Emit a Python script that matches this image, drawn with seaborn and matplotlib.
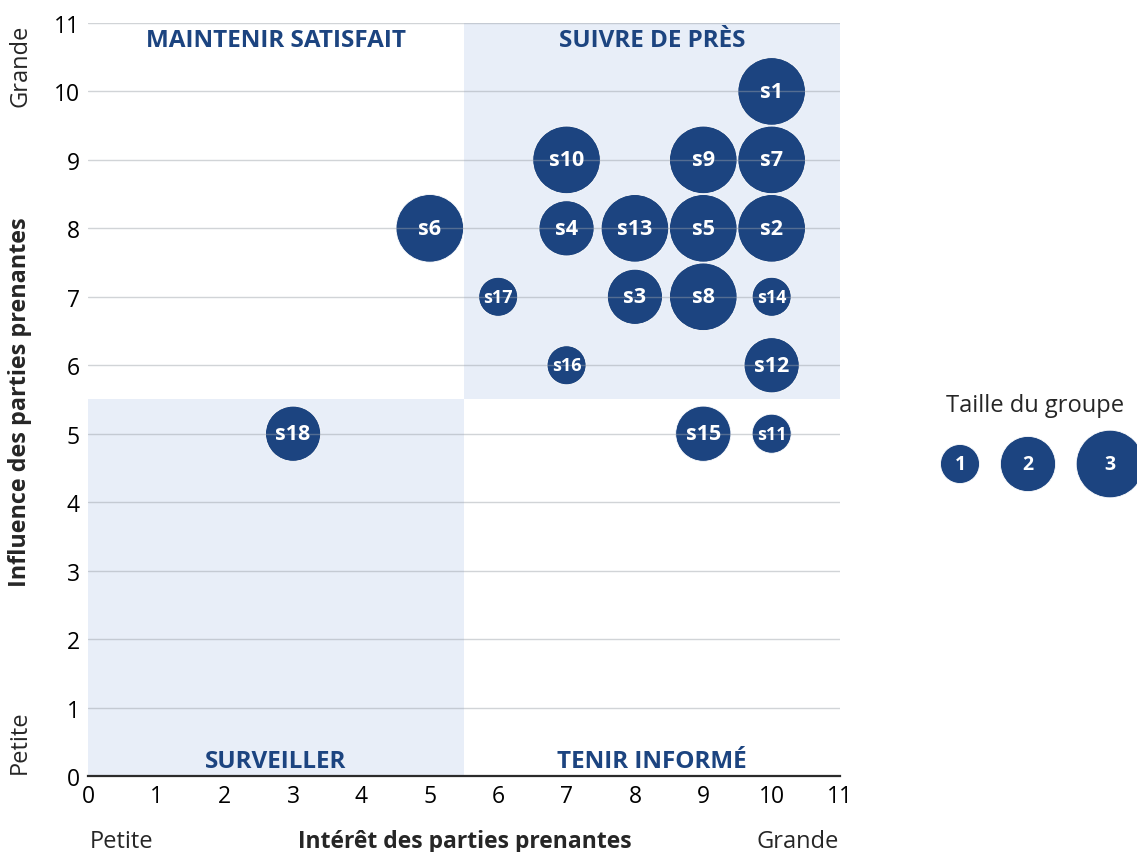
import pandas as pd
import seaborn as sns
import matplotlib.pyplot as plt
from matplotlib.patches import Rectangle

# Stakeholder data: name, interest (x), influence (y), group size.
noms = ['s1', 's2', 's3', 's4', 's5', 's6', 's7', 's8', 's9', 's10',
        's11', 's12', 's13', 's14', 's15', 's16', 's17', 's18']
interet = [10, 10, 8, 7, 9, 5, 10, 9, 9, 7, 10, 10, 8, 10, 9, 7, 6, 3]
influence = [10, 8, 7, 8, 8, 8, 9, 7, 9, 9, 5, 6, 8, 7, 5, 6, 7, 5]
taille = [3, 3, 2, 2, 3, 3, 3, 3, 3, 3, 1, 2, 3, 1, 2, 1, 1, 2]

quadrants = ['MAINTENIR SATISFAIT', 'SUIVRE DE PRÈS', 'SURVEILLER', 'TENIR INFORMÉ']
legende_tailles = [1, 2, 3]

df = pd.DataFrame({'nom': noms, 'interet': interet, 'influence': influence, 'taille': taille})

bleu = '#1c4480'
fond = '#e8eef8'

sns.set_style('white')
plt.rcParams['font.family'] = ['Open Sans', 'DejaVu Sans']

fig = plt.figure(figsize=(11.37, 8.53), dpi=100)
ax = fig.add_axes([0.0774, 0.0891, 0.6614, 0.8828])

# Quadrant backgrounds
ax.add_patch(Rectangle((0, 0), 5.5, 5.5, color=fond, zorder=0, lw=0))
ax.add_patch(Rectangle((5.5, 5.5), 5.5, 5.5, color=fond, zorder=0, lw=0))

tailles = {1: 790, 2: 1580, 3: 2370}
sns.scatterplot(data=df, x='interet', y='influence', size='taille', sizes=tailles,
                color=bleu, edgecolor='white', linewidth=0.6, legend=False,
                ax=ax, zorder=3, clip_on=False)

for _, r in df.iterrows():
    ax.text(r['interet'], r['influence'], r['nom'], color='white', fontsize=15.5 if r['taille'] > 1 else 13,
            fontweight='bold', ha='center', va='center', zorder=5)

# Horizontal grid lines on top (semi transparent)
for yv in range(1, 12):
    ax.axhline(yv, color='#9aa0a8', lw=1, alpha=0.45, zorder=4)

# Quadrant labels
ax.text(2.75, 10.75, quadrants[0], color=bleu, fontsize=17.5, fontweight='bold', ha='center', va='center')
ax.text(8.25, 10.75, quadrants[1], color=bleu, fontsize=17.5, fontweight='bold', ha='center', va='center')
ax.text(2.75, 0.22, quadrants[2], color=bleu, fontsize=17.5, fontweight='bold', ha='center', va='center')
ax.text(8.25, 0.22, quadrants[3], color=bleu, fontsize=17.5, fontweight='bold', ha='center', va='center')

ax.set_xlim(0, 11)
ax.set_ylim(0, 11)
ax.set_xticks(range(0, 12))
ax.set_yticks(range(0, 12))
ax.tick_params(labelsize=16.5, length=0, pad=6, colors='black')
for s in ['top', 'right', 'left']:
    ax.spines[s].set_visible(False)
ax.spines['bottom'].set_color('#2b2b2b')
ax.spines['bottom'].set_linewidth(1.6)
ax.spines['bottom'].set_zorder(6)

ax.set_xlabel('')
ax.set_ylabel('')
fig.text(465 / 1137, 1 - 842 / 853, 'Intérêt des parties prenantes', fontsize=16.5, fontweight='bold',
         ha='center', va='center')
fig.text(122 / 1137, 1 - 842 / 853, 'Petite', fontsize=17, ha='center', va='center')
fig.text(798 / 1137, 1 - 842 / 853, 'Grande', fontsize=17, ha='center', va='center')
fig.text(20 / 1137, 1 - 402 / 853, 'Influence des parties prenantes', fontsize=16.8, fontweight='bold',
         ha='center', va='center', rotation=90)
fig.text(20 / 1137, 1 - 66 / 853, 'Grande', fontsize=17, ha='center', va='center', rotation=90)
fig.text(20 / 1137, 1 - 742 / 853, 'Petite', fontsize=17, ha='center', va='center', rotation=90)

# Size legend
lax = fig.add_axes([930 / 1137, 1 - 510 / 853, 207 / 1137, 90 / 853])
lax.set_xlim(0, 207)
lax.set_ylim(0, 90)
lax.axis('off')
leg = pd.DataFrame({'x': [30, 98, 180], 'y': [45, 45, 45], 't': legende_tailles})
sns.scatterplot(data=leg, x='x', y='y', size='t', sizes=tailles, color=bleu, edgecolor='white',
                linewidth=0.6, legend=False, ax=lax, clip_on=False)
for _, r in leg.iterrows():
    lax.text(r['x'], r['y'], str(r['t']), color='white', fontsize=14, fontweight='bold',
             ha='center', va='center')
fig.text(1035 / 1137, 1 - 406 / 853, 'Taille du groupe', fontsize=17, ha='center', va='center')

fig.savefig('out.png', dpi=100)
